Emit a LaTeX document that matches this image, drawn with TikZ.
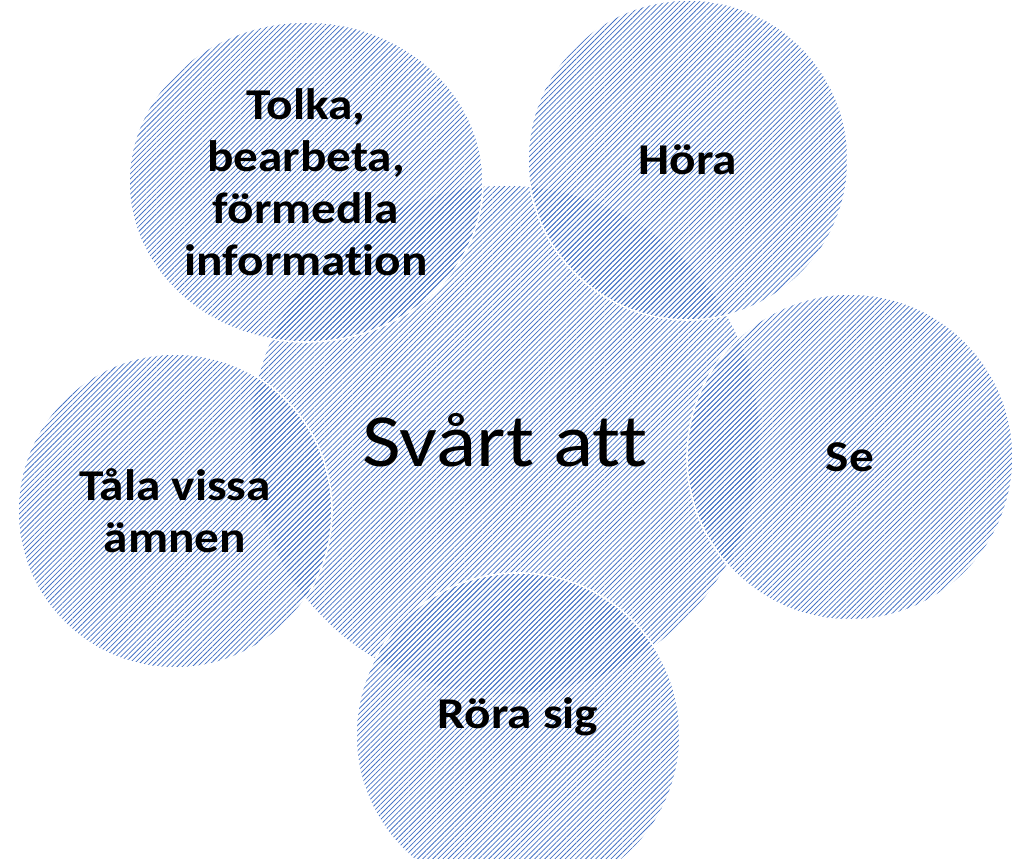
\documentclass[tikz,border=0pt]{standalone}
\usepackage{fontspec}
\setmainfont{Carlito}[FakeStretch=1.12, Ligatures=NoCommon]
\usepackage{tikz}
\usetikzlibrary{patterns.meta,shapes.geometric}
\definecolor{hatchblue}{HTML}{4472C4}
\tikzstyle{hatched} = [draw=white, line width=1.6pt, fill=white, pattern={Lines[angle=45,distance=3.6pt,line width=0.75pt]}, pattern color=hatchblue, inner sep=0pt, align=center]
\tikzstyle{bubble} = [hatched, circle, font=\fontsize{44}{52}\selectfont\bfseries]

\begin{document}
\begin{tikzpicture}[x=1pt,y=1pt]
      \useasboundingbox (0,0) rectangle (1015,859);
      \node[hatched, circle, minimum size=510pt, font=\fontsize{75}{90}\selectfont] (Hub) at (505,419) {Svårt att};
      %
      \node[bubble, ellipse, minimum width=354pt, minimum height=320pt] (Tolka) at (306,677) {Tolka,\\bearbeta,\\förmedla\\information};
      \node[bubble, minimum size=320pt] (Hora) at (688,699) {Höra};
      \node[bubble, minimum size=326pt] (Se) at (850,402) {Se};
      \node[bubble, minimum size=314pt] (Tala) at (175,348) {Tåla vissa\\ämnen};
      \node[bubble, minimum size=324pt] (Rora) at (518,124) {\raisebox{18pt}[\height][\depth]{Röra sig}};
\end{tikzpicture}
\end{document}
